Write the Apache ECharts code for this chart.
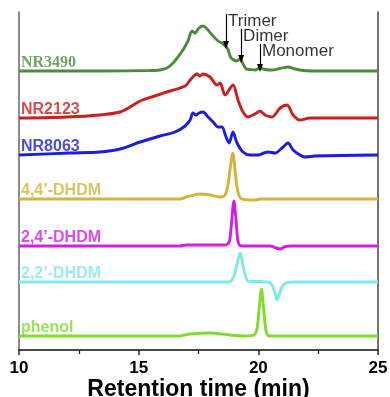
<!DOCTYPE html>
<html>
<head>
<meta charset="utf-8">
<style>
  html, body { margin: 0; padding: 0; background: #fff; }
  #chart { width: 390px; height: 397px; }
</style>
<script src="https://cdn.jsdelivr.net/npm/echarts@6.0.0/dist/echarts.min.js"></script>
</head>
<body>
<div id="chart"></div>
<script>
// trace names, top to bottom
const names = ['NR3490', 'NR2123', 'NR8063', '4,4’-DHDM', '2,4’-DHDM', '2,2’-DHDM', 'phenol'];
// vertical offset of each trace (signal units)
const offsets = [279, 232, 195, 151, 104, 68, 14];

// [retention time (min), signal]
const nr3490 = [[10,0],[13.4,0],[15.47,0.5],[15.89,1],[16.18,3],[16.44,8],[16.64,14],[16.85,21],[17.06,30],[17.23,40],[17.35,38],[17.52,43],[17.69,45],[17.86,42],[18.07,36],[18.32,30],[18.48,28],[18.62,25],[18.72,22],[18.84,14],[18.97,11],[19.1,10],[19.24,12],[19.36,7],[19.5,2],[19.65,1.5],[19.86,1],[20.07,3],[20.28,1.5],[20.57,1],[20.91,2.5],[21.24,4],[21.53,2],[21.87,0.5],[22.58,0],[25,0]];
const nr2123 = [[10,0],[12.0,1],[13.38,3],[14.22,6],[14.64,11],[15.06,17],[15.68,22],[16.31,27],[16.94,32],[17.15,38],[17.35,43],[17.44,44],[17.56,42],[17.69,44],[17.98,41],[18.27,33],[18.4,35],[18.61,23],[18.94,33],[19.15,18],[19.36,6],[19.57,1],[19.86,4],[20.07,7],[20.28,3],[20.57,1],[20.91,10],[21.2,13],[21.45,3],[21.74,-2],[22.16,0],[25,0]];
const nr8063 = [[10,0],[12.13,2],[13.38,3],[14.22,6],[15.06,13],[15.89,19],[16.52,23],[16.94,29],[17.15,35],[17.27,42],[17.4,40],[17.52,42],[17.69,43],[17.9,38],[18.11,33],[18.32,28],[18.48,28],[18.65,18],[18.78,12],[18.94,23],[19.11,12],[19.36,3],[19.65,0],[19.99,0],[20.24,2],[20.41,3],[20.7,2],[20.99,7],[21.24,12],[21.45,5],[21.74,0],[21.95,-2],[22.37,-1],[25,0]];
const dhdm44 = [[10,0],[16.73,0],[16.98,2],[17.15,3],[17.56,5],[17.98,4],[18.4,2],[18.61,4],[18.73,14],[18.82,30],[18.93,46],[19.03,28],[19.11,12],[19.2,3],[19.32,0],[19.86,-1],[20.07,0],[25,0]];
const dhdm24 = [[10,0],[16.73,0],[16.98,1],[18.61,1],[18.78,4],[18.86,18],[18.98,45],[19.07,25],[19.15,5],[19.28,0],[20.49,0],[20.74,-2],[20.91,-3],[21.07,-1],[21.32,0],[25,0]];
const dhdm22 = [[10,0],[18.73,0],[18.9,2],[19.03,10],[19.15,22],[19.24,29],[19.32,22],[19.44,8],[19.57,1],[20.41,0],[20.57,-3],[20.7,-11],[20.78,-18],[20.87,-13],[20.99,-5],[21.16,-1],[21.41,0],[25,0]];
const phenol = [[10,0],[16.73,0],[17.15,2],[17.98,3],[18.82,1],[19.44,0],[19.82,1],[19.95,8],[20.03,26],[20.13,47],[20.24,22],[20.32,5],[20.41,0.5],[20.7,0],[25,0]];

// peak annotations on NR3490
const peakNames = ['Trimer', 'Dimer', 'Monomer'];
const peakTimes = [18.65, 19.28, 20.07];

const traces = [nr3490, nr2123, nr8063, dhdm44, dhdm24, dhdm22, phenol];
const colors = ['#4b8c3b', '#cc1f1f', '#1c1ce6', '#d6b43a', '#d41ee6', '#80e8e8', '#80dc2c'];
const labelFonts = ['Liberation Serif', 'Liberation Sans', 'Liberation Sans', 'Liberation Sans', 'Liberation Sans', 'Liberation Sans', 'Liberation Sans'];

// arrow top / bottom for each annotation
const arrowTop = [336, 321, 306];
const arrowBottom = [305, 291, 282];

const chart = echarts.init(document.getElementById('chart'));

const lineSeries = traces.map((tr, i) => ({
    name: names[i],
    type: 'line',
    data: tr.map(p => [p[0], p[1] + offsets[i]]),
    smooth: 0.3,
    symbol: 'none',
    lineStyle: { color: colors[i], width: 2.9 },
    z: 3
}));

// arrows for the oligomer peaks
lineSeries[0].markLine = {
    silent: true,
    symbol: ['none', 'triangle'],
    symbolSize: [6, 8],
    label: { show: false },
    lineStyle: { color: '#000', width: 1.2, type: 'solid' },
    data: peakTimes.map((t, i) => [{ coord: [t, arrowTop[i]] }, { coord: [t, arrowBottom[i]] }])
};

const option = {
    animation: false,
    backgroundColor: '#fff',
    grid: { left: 19, right: 12, top: 12, bottom: 47, outerBoundsMode: 'none' },
    xAxis: [
        {
            type: 'value',
            min: 10,
            max: 25,
            interval: 5,
            position: 'bottom',
            name: 'Retention time (min)',
            nameLocation: 'middle',
            nameGap: 28,
            nameMoveOverlap: false,
            nameTextStyle: { fontFamily: 'Liberation Sans', fontWeight: 'bold', fontSize: 23, color: '#000' },
            axisLine: { lineStyle: { color: '#222', width: 1.5 } },
            axisTick: { length: 5, lineStyle: { color: '#222', width: 1.5 } },
            minorTick: { show: true, splitNumber: 2, length: 4, lineStyle: { color: '#222', width: 1.2 } },
            axisLabel: { fontFamily: 'Liberation Sans', fontWeight: 'bold', fontSize: 17, color: '#000', margin: 10 },
            splitLine: { show: false }
        },
        {
            type: 'value',
            min: 10,
            max: 25,
            position: 'top',
            axisLine: { lineStyle: { color: '#444', width: 1.5 } },
            axisTick: { show: false },
            axisLabel: { show: false },
            splitLine: { show: false }
        }
    ],
    yAxis: [
        {
            type: 'value',
            min: 0,
            max: 338,
            position: 'left',
            axisLine: { show: true, lineStyle: { color: '#666', width: 1.5 } },
            axisTick: { show: false },
            axisLabel: { show: false },
            splitLine: { show: false }
        },
        {
            type: 'value',
            min: 0,
            max: 338,
            position: 'right',
            axisLine: { show: true, lineStyle: { color: '#444', width: 1.5 } },
            axisTick: { show: false },
            axisLabel: { show: false },
            splitLine: { show: false }
        }
    ],
    series: [
        ...lineSeries,
        {
            name: 'trace labels',
            type: 'scatter',
            symbolSize: 0,
            silent: true,
            data: names.map((n, i) => ({
                name: n,
                value: [10, offsets[i] + 8],
                label: {
                    show: true,
                    position: 'right',
                    distance: 2,
                    formatter: '{b}',
                    color: colors[i],
                    fontFamily: labelFonts[i],
                    fontWeight: 'bold',
                    fontSize: 16
                }
            })),
            z: 4
        },
        {
            name: 'peak labels',
            type: 'scatter',
            symbolSize: 0,
            silent: true,
            data: peakNames.map((n, i) => ({
                name: n,
                value: [peakTimes[i], arrowTop[i] - 7]
            })),
            label: {
                show: true,
                position: 'right',
                distance: 2,
                formatter: '{b}',
                color: '#000',
                fontFamily: 'Liberation Sans',
                fontSize: 17
            },
            z: 4
        }
    ]
};

chart.setOption(option);
</script>
</body>
</html>
